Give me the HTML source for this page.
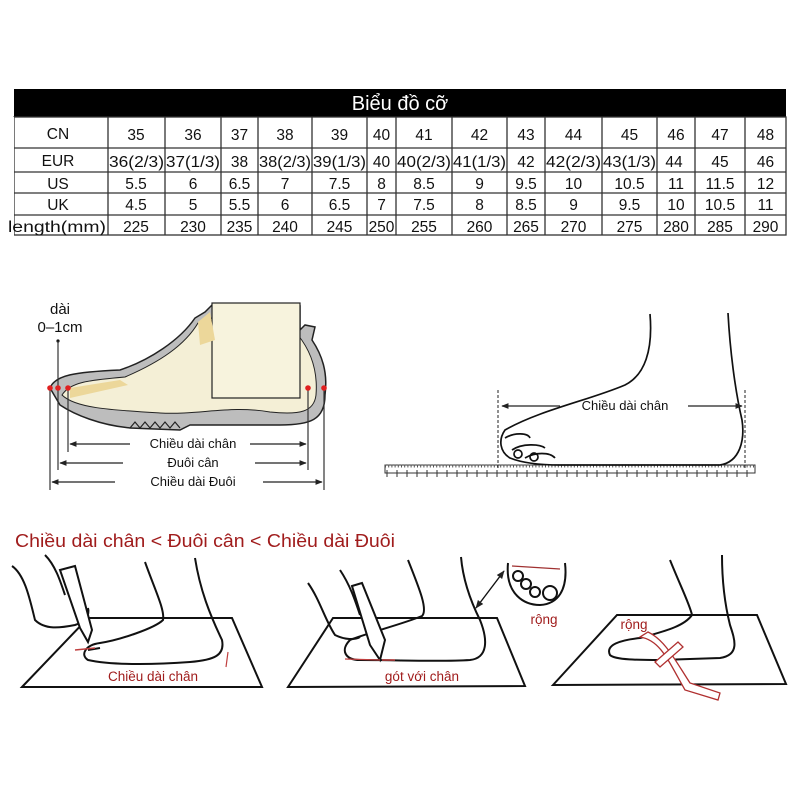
<!DOCTYPE html>
<html><head><meta charset="utf-8"><style>
html,body{margin:0;padding:0;background:#fff}
svg{display:block}
text{font-family:"Liberation Sans","DejaVu Sans",sans-serif}
</style></head><body>
<svg width="800" height="800" viewBox="0 0 800 800" xmlns="http://www.w3.org/2000/svg">
<defs>
<marker id="ah" viewBox="0 0 10 10" refX="9" refY="5" markerWidth="6" markerHeight="6" orient="auto-start-reverse"><path d="M0,1 L10,5 L0,9 z" fill="#222"/></marker>
</defs>
<rect width="800" height="800" fill="#fff"/>
<!-- TABLE -->
<rect x="14" y="89" width="772" height="28" fill="#000"/>
<text x="400" y="110" fill="#fff" font-size="20" text-anchor="middle">Biểu đồ cỡ</text>
<g stroke="#333" stroke-width="1.3" fill="none">
<rect x="14" y="117" width="772" height="118"/>
<line x1="14" y1="148" x2="786" y2="148"/><line x1="14" y1="172" x2="786" y2="172"/>
<line x1="14" y1="193" x2="786" y2="193"/><line x1="14" y1="215" x2="786" y2="215"/>
<line x1="108" y1="117" x2="108" y2="235"/><line x1="165" y1="117" x2="165" y2="235"/>
<line x1="221" y1="117" x2="221" y2="235"/><line x1="258" y1="117" x2="258" y2="235"/>
<line x1="312" y1="117" x2="312" y2="235"/><line x1="367" y1="117" x2="367" y2="235"/>
<line x1="396" y1="117" x2="396" y2="235"/><line x1="452" y1="117" x2="452" y2="235"/>
<line x1="507" y1="117" x2="507" y2="235"/><line x1="545" y1="117" x2="545" y2="235"/>
<line x1="602" y1="117" x2="602" y2="235"/><line x1="657" y1="117" x2="657" y2="235"/>
<line x1="695" y1="117" x2="695" y2="235"/><line x1="745" y1="117" x2="745" y2="235"/>
</g>
<rect x="0" y="117" width="14" height="120" fill="#fff"/>
<g font-size="15.5" fill="#111" text-anchor="middle">
<text x="58" y="139">CN</text><text x="58" y="166">EUR</text><text x="58" y="189">US</text><text x="58" y="210">UK</text>
<text x="57" y="232" textLength="98" lengthAdjust="spacingAndGlyphs">length(mm)</text>
<text x="136" y="140">35</text><text x="193" y="140">36</text><text x="239.5" y="140">37</text><text x="285" y="140">38</text><text x="339.5" y="140">39</text><text x="381.5" y="140">40</text><text x="424" y="140">41</text><text x="479.5" y="140">42</text><text x="526" y="140">43</text><text x="573.5" y="140">44</text><text x="629.5" y="140">45</text><text x="676" y="140">46</text><text x="720" y="140">47</text><text x="765.5" y="140">48</text>
<text x="136.5" y="167" textLength="55" lengthAdjust="spacingAndGlyphs">36(2/3)</text>
<text x="193" y="167" textLength="54" lengthAdjust="spacingAndGlyphs">37(1/3)</text>
<text x="239.5" y="167">38</text>
<text x="285" y="167" textLength="52" lengthAdjust="spacingAndGlyphs">38(2/3)</text>
<text x="339.5" y="167" textLength="53" lengthAdjust="spacingAndGlyphs">39(1/3)</text>
<text x="381.5" y="167">40</text>
<text x="424" y="167" textLength="54" lengthAdjust="spacingAndGlyphs">40(2/3)</text>
<text x="479.5" y="167" textLength="53" lengthAdjust="spacingAndGlyphs">41(1/3)</text>
<text x="526" y="167">42</text>
<text x="573.5" y="167" textLength="55" lengthAdjust="spacingAndGlyphs">42(2/3)</text>
<text x="629.5" y="167" textLength="53" lengthAdjust="spacingAndGlyphs">43(1/3)</text>
<text x="674" y="167">44</text><text x="720" y="167">45</text><text x="765.5" y="167">46</text>
<text x="136" y="189">5.5</text><text x="193" y="189">6</text><text x="239.5" y="189">6.5</text><text x="285" y="189">7</text><text x="339.5" y="189">7.5</text><text x="381.5" y="189">8</text><text x="424" y="189">8.5</text><text x="479.5" y="189">9</text><text x="526" y="189">9.5</text><text x="573.5" y="189">10</text><text x="629.5" y="189">10.5</text><text x="676" y="189">11</text><text x="720" y="189">11.5</text><text x="765.5" y="189">12</text>
<text x="136" y="210">4.5</text><text x="193" y="210">5</text><text x="239.5" y="210">5.5</text><text x="285" y="210">6</text><text x="339.5" y="210">6.5</text><text x="381.5" y="210">7</text><text x="424" y="210">7.5</text><text x="479.5" y="210">8</text><text x="526" y="210">8.5</text><text x="573.5" y="210">9</text><text x="629.5" y="210">9.5</text><text x="676" y="210">10</text><text x="720" y="210">10.5</text><text x="765.5" y="210">11</text>
<text x="136" y="232">225</text><text x="193" y="232">230</text><text x="239.5" y="232">235</text><text x="285" y="232">240</text><text x="339.5" y="232">245</text><text x="381.5" y="232">250</text><text x="424" y="232">255</text><text x="479.5" y="232">260</text><text x="526" y="232">265</text><text x="573.5" y="232">270</text><text x="629.5" y="232">275</text><text x="676" y="232">280</text><text x="720" y="232">285</text><text x="765.5" y="232">290</text>
</g>

<!-- SHOE SIDE VIEW -->
<text x="60" y="314" font-size="15" text-anchor="middle" fill="#111">dài</text>
<text x="60" y="332" font-size="15" text-anchor="middle" fill="#111">0–1cm</text>
<circle cx="58" cy="341" r="1.6" fill="#111"/>
<path d="M50,388 C55,375 75,372 120,370 C150,360 180,340 195,318 L205,312 L212,305 L212,306 L300,306 L300,330 L305,325 L315,327 L312,340 C322,355 328,372 325,395 C325,420 310,425 280,425 L190,425 L180,430 L130,428 C100,425 75,415 60,405 Z" fill="#bdbdbd" stroke="#222" stroke-width="1.5"/>
<path d="M62,395 C70,382 90,380 125,377 C160,362 185,345 198,323 L212,318 L212,320 L298,320 L298,335 C310,350 318,370 316,395 C314,412 300,415 270,412 C230,405 200,415 160,413 C110,410 75,408 62,395 Z" fill="#f4efd6" stroke="#222" stroke-width="1"/>
<rect x="212" y="303" width="88" height="95" fill="#f7f3dd" stroke="#222" stroke-width="1.2"/>
<path d="M198,322 L210,312 L215,340 L200,345 Z" fill="#ecd79a"/>
<path d="M70,388 L120,380 L128,385 L70,398 Z" fill="#ecd79a"/>
<path d="M130,428 L135,422 L140,428 L145,422 L150,428 L155,422 L160,428 L165,422 L170,428 L175,422 L180,428" fill="none" stroke="#222" stroke-width="1.2"/>
<g stroke="#333" stroke-width="1.2">
<line x1="50" y1="388" x2="50" y2="490"/><line x1="58" y1="341" x2="58" y2="470"/><line x1="68" y1="388" x2="68" y2="452"/>
<line x1="308" y1="388" x2="308" y2="470"/><line x1="324" y1="388" x2="324" y2="490"/>
</g>
<g fill="#e02020"><circle cx="50" cy="388" r="2.8"/><circle cx="58" cy="388" r="2.8"/><circle cx="68" cy="388" r="2.8"/><circle cx="308" cy="388" r="2.8"/><circle cx="324" cy="388" r="2.8"/></g>
<g stroke="#222" stroke-width="1.2" marker-end="url(#ah)">
<line x1="130" y1="444" x2="70" y2="444"/><line x1="250" y1="444" x2="306" y2="444"/>
<line x1="123" y1="463" x2="60" y2="463"/><line x1="255" y1="463" x2="306" y2="463"/>
<line x1="115" y1="482" x2="52" y2="482"/><line x1="263" y1="482" x2="322" y2="482"/>
</g>
<g font-size="13" text-anchor="middle" fill="#111">
<text x="193" y="448">Chiều dài chân</text><text x="193" y="467">Đuôi cân</text><text x="193" y="486">Chiều dài Đuôi</text>
</g>

<!-- FOOT ON RULER -->
<rect x="385" y="465" width="370" height="8" fill="#fff" stroke="#333" stroke-width="1"/>
<path d="M385,466 h370" stroke="#555" stroke-width="3" stroke-dasharray="1 2.2"/>
<path d="M387,470 v7 M397,470 v7 M407,470 v7 M417,470 v7 M427,470 v7 M437,470 v7 M447,470 v7 M457,470 v7 M467,470 v7 M477,470 v7 M487,470 v7 M497,470 v7 M507,470 v7 M517,470 v7 M527,470 v7 M537,470 v7 M547,470 v7 M557,470 v7 M567,470 v7 M577,470 v7 M587,470 v7 M597,470 v7 M607,470 v7 M617,470 v7 M627,470 v7 M637,470 v7 M647,470 v7 M657,470 v7 M667,470 v7 M677,470 v7 M687,470 v7 M697,470 v7 M707,470 v7 M717,470 v7 M727,470 v7 M737,470 v7 M747,470 v7" stroke="#333" stroke-width="1"/>
<g fill="none" stroke="#111" stroke-width="1.7">
<path d="M650,314 C653,350 645,375 625,385 C590,400 540,410 505,430 C498,440 500,452 510,458 C520,462 535,465 560,465 L720,465 C740,462 745,440 742,420 C735,390 730,350 728,313"/>
<path d="M505,438 C515,432 528,433 530,438 M512,450 C522,443 540,444 545,448 M525,458 C535,452 550,452 555,458"/>
<circle cx="518" cy="454" r="4"/><circle cx="534" cy="457" r="4"/>
</g>
<g stroke="#222" stroke-width="1" stroke-dasharray="3 2"><line x1="498" y1="390" x2="498" y2="470"/><line x1="745" y1="390" x2="745" y2="470"/></g>
<g stroke="#222" stroke-width="1.2" marker-end="url(#ah)"><line x1="560" y1="406" x2="502" y2="406"/><line x1="688" y1="406" x2="742" y2="406"/></g>
<text x="625" y="410" font-size="13" text-anchor="middle" fill="#111">Chiều dài chân</text>

<!-- BOTTOM -->
<text x="15" y="547" font-size="18" fill="#a01c1c" textLength="380" lengthAdjust="spacingAndGlyphs">Chiều dài chân &lt; Đuôi cân &lt; Chiều dài Đuôi</text>
<g fill="none" stroke="#111" stroke-width="2">
<!-- panel 1 -->
<path d="M22,687 L88,618 L232,618 L262,687 Z" fill="#fff"/>
<path d="M145,562 C155,590 165,610 163,620 C155,628 120,640 100,643 C85,645 80,655 88,660 C110,665 150,665 190,662 C215,660 225,655 222,640 C210,615 200,590 195,558"/>
<path d="M12,566 C25,575 30,600 35,620 C45,630 60,628 75,625 C85,622 90,615 88,608 M45,555 C55,565 60,580 65,595"/>
<path d="M60,570 L75,566 L92,630 L88,642 L80,628 Z" fill="#fff"/>
<path d="M88,650 L100,648" />
<!-- panel 2 -->
<path d="M288,687 L333,618 L497,618 L525,686 Z" fill="#fff"/>
<path d="M408,560 C420,590 428,610 422,616 C400,625 370,632 350,640 C340,650 345,660 360,660 C400,660 440,662 470,660 C488,658 488,640 480,620 C470,600 463,580 461,557"/>
<path d="M308,583 C320,600 325,620 335,635 C345,640 355,640 360,637 M340,570 C350,585 355,600 360,615"/>
<path d="M352,586 L362,583 L385,640 L380,660 L370,645 Z" fill="#fff"/>
<!-- inset -->
<path d="M508,563 C505,595 525,605 540,605 C558,604 568,590 565,563"/>
<circle cx="518" cy="576" r="5"/><circle cx="526" cy="584" r="5"/><circle cx="535" cy="592" r="5"/><circle cx="550" cy="593" r="7"/>
<!-- panel 3 -->
<path d="M553,685 L617,615 L757,615 L786,684 Z" fill="#fff"/>
<path d="M670,560 C680,585 690,605 692,615 C685,625 670,630 640,638 C620,640 605,645 610,655 C615,660 640,660 660,660 L720,658 C740,655 735,640 730,625 C725,605 722,580 722,555"/>
</g>
<g stroke="#111" stroke-width="1.4" marker-end="url(#ah)" marker-start="url(#ah)"><line x1="476" y1="608" x2="504" y2="571"/></g>
<line x1="512" y1="566" x2="560" y2="569" stroke="#a03030" stroke-width="1.2"/>
<path d="M75,650 L95,648 M382,660 L395,660" stroke="#c04040" stroke-width="1.5"/>
<path d="M228,652 L226,667 M345,659 L380,660" stroke="#c04040" stroke-width="1.2" fill="none"/>
<path d="M640,637 C660,640 668,660 685,690 L718,700 L720,693 L690,683 C675,660 665,640 648,632 Z" fill="#fff" stroke="#b03030" stroke-width="1.3"/>
<path d="M655,662 L678,642 L683,647 L660,667 Z" fill="#fff" stroke="#b03030" stroke-width="1.3"/>
<g font-size="13.5" fill="#a01c1c" text-anchor="middle">
<text x="153" y="681">Chiều dài chân</text><text x="422" y="681">gót với chân</text>
<text x="544" y="624">rộng</text><text x="634" y="629">rộng</text>
</g>
</svg>
</body></html>
